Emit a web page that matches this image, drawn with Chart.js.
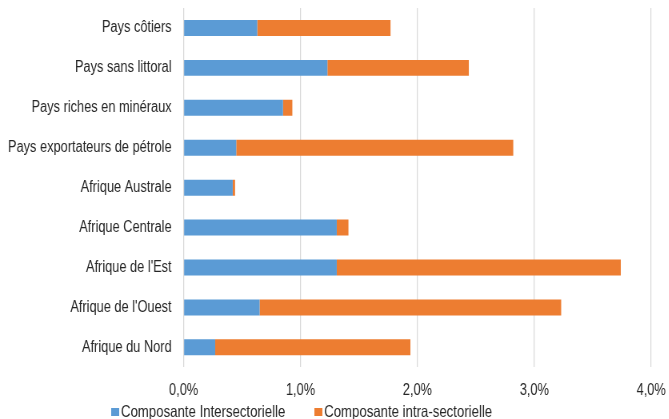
<!DOCTYPE html>
<html lang="fr">
<head>
<meta charset="utf-8">
<title>Composantes intersectorielle et intra-sectorielle</title>
<script src="https://cdn.jsdelivr.net/npm/chart.js@4/dist/chart.umd.min.js"></script>
<style>
  html, body { margin: 0; padding: 0; background: #ffffff; }
  #wrap { width: 669px; height: 419px; position: relative; overflow: hidden; }
  /* The chart is laid out wider and condensed horizontally, giving the tall narrow lettering */
  #chart { position: absolute; left: 0; top: 0; transform: scaleX(0.8); transform-origin: 0 0; }
</style>
</head>
<body>
<div id="wrap"><canvas id="chart" width="836" height="419"></canvas></div>
<script>
// Regions / country groups (top to bottom)
const categories = [
  'Pays côtiers',
  'Pays sans littoral',
  'Pays riches en minéraux',
  'Pays exportateurs de pétrole',
  'Afrique Australe',
  'Afrique Centrale',
  "Afrique de l'Est",
  "Afrique de l'Ouest",
  'Afrique du Nord'
];

// Contributions, in percentage points
const intersectorielle = [0.63, 1.23, 0.85, 0.45, 0.42, 1.31, 1.31, 0.65, 0.27];
const intraSectorielle = [1.14, 1.21, 0.08, 2.37, 0.02, 0.10, 2.43, 2.58, 1.67];

const seriesNames = ['Composante Intersectorielle', 'Composante intra-sectorielle'];
const seriesColors = ['#5B9BD5', '#ED7D31'];

// Value axis tick labels
const xTickLabels = ['0,0%', '1,0%', '2,0%', '3,0%', '4,0%'];

const FONT_FAMILY = '"Liberation Sans", Arial, sans-serif';
const FONT_SIZE = 16;
const LEGEND_FONT_SIZE = 16.5;
const TEXT_COLOR = '#262626';
const GRID_COLOR = '#d9d9d9';

// Legend drawn centred below the axis, small square swatches
const bottomLegend = {
  id: 'bottomLegend',
  afterDraw(chart) {
    const ctx = chart.ctx;
    const boxW = 10, boxH = 8, boxGap = 2.5, itemGap = 36, centerX = 377, centerY = 411.5;
    ctx.save();
    ctx.font = LEGEND_FONT_SIZE + 'px ' + FONT_FAMILY;
    ctx.textBaseline = 'middle';
    ctx.textAlign = 'left';
    const items = chart.data.datasets.map(ds => ({
      text: ds.label, color: ds.backgroundColor, w: ctx.measureText(ds.label).width
    }));
    const total = items.reduce((s, it) => s + boxW + boxGap + it.w, 0) + itemGap * (items.length - 1);
    let x = centerX - total / 2;
    items.forEach(it => {
      ctx.fillStyle = it.color;
      ctx.fillRect(Math.round(x), Math.round(centerY - boxH / 2), boxW, boxH);
      ctx.fillStyle = TEXT_COLOR;
      ctx.fillText(it.text, x + boxW + boxGap, centerY + 1);
      x += boxW + boxGap + it.w + itemGap;
    });
    ctx.restore();
  }
};

new Chart(document.getElementById('chart'), {
  type: 'bar',
  data: {
    labels: categories,
    datasets: [
      { label: seriesNames[0], data: intersectorielle, backgroundColor: seriesColors[0] },
      { label: seriesNames[1], data: intraSectorielle, backgroundColor: seriesColors[1] }
    ]
  },
  options: {
    indexAxis: 'y',
    responsive: false,
    animation: false,
    devicePixelRatio: 1,
    categoryPercentage: 1,
    barPercentage: 0.4,
    layout: { padding: { left: 10, right: 22, top: 8, bottom: 18.5 } },
    plugins: {
      legend: { display: false },
      tooltip: { enabled: false }
    },
    scales: {
      x: {
        stacked: true,
        min: 0,
        max: 4,
        ticks: {
          stepSize: 1,
          padding: 0,
          color: TEXT_COLOR,
          font: { family: FONT_FAMILY, size: FONT_SIZE },
          callback: (v, i) => xTickLabels[i]
        },
        grid: { color: GRID_COLOR, lineWidth: 1.25, drawTicks: true, tickLength: 14, tickColor: 'transparent' },
        border: { display: false }
      },
      y: {
        stacked: true,
        ticks: {
          padding: 0,
          color: TEXT_COLOR,
          font: { family: FONT_FAMILY, size: FONT_SIZE, lineHeight: 1 },
          autoSkip: false
        },
        grid: { display: true, color: 'transparent', drawTicks: true, tickLength: 15, tickColor: 'transparent' },
        border: { display: false }
      }
    }
  },
  plugins: [bottomLegend]
});
</script>
</body>
</html>
